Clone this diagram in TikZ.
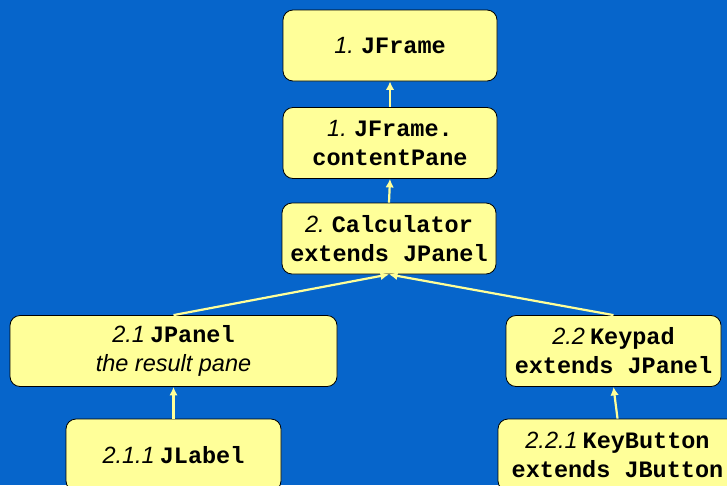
\documentclass[tikz,border=0pt]{standalone}
\usepackage{fontspec}
\setmainfont{Liberation Sans}
\newfontfamily\codefont{Liberation Mono}
\usetikzlibrary{arrows.meta}
\definecolor{bgblue}{HTML}{0665CB}
\definecolor{boxyellow}{HTML}{FFFF99}
\newcommand{\cls}[1]{{\codefont\bfseries #1}}
\newcommand{\num}[1]{\textit{#1}\hspace{-1.5pt}}
\begin{document}
\begin{tikzpicture}[x=1pt,y=-1pt,
  box/.style={draw=black, line width=0.8pt, fill=boxyellow, rounded corners=10pt,
    align=center, inner sep=0pt, minimum height=71,
    font=\fontsize{23.5}{29}\selectfont},
  link/.style={draw=boxyellow, line width=2.2pt, -{Latex[length=8.5pt,width=8.5pt]}}]
\fill[bgblue] (0,0) rectangle (727,485);
\useasboundingbox (0,0) rectangle (727,485);
\clip (0,0) rectangle (727,485);
% component hierarchy
\node[box, minimum width=214] (frame) at (390,45.5) {\num{1.} \cls{JFrame}};
\node[box, minimum width=214] (content) at (390,143) {\num{1.} \cls{JFrame.}\\\cls{contentPane}};
\node[box, minimum width=214] (calc) at (389,238.5) {\num{2.} \cls{Calculator}\\\cls{extends JPanel}};
\node[box, minimum width=327] (result) at (173.5,351) {\num{2.1} \cls{JPanel}\\\num{the result pane}};
\node[box, minimum width=215] (keypad) at (613.5,351) {\num{2.2} \cls{Keypad}\\\cls{extends JPanel}};
\node[box, minimum width=215, minimum height=72] (label) at (173.5,455) {\num{2.1.1} \cls{JLabel}};
\node[box, minimum width=239, minimum height=72] (keybtn) at (617.5,455) {\num{2.2.1} \cls{KeyButton}\\\cls{extends JButton}};
% containment links
\draw[link] (content.north) -- (frame.south);
\draw[link] (calc.north) -- (content.south);
\draw[link] (result.north) -- (calc.south);
\draw[link] (keypad.north) -- (calc.south);
\draw[link] (label.north) -- (result.south);
\draw[link] (keybtn.north) -- (keypad.south);
\end{tikzpicture}
\end{document}
